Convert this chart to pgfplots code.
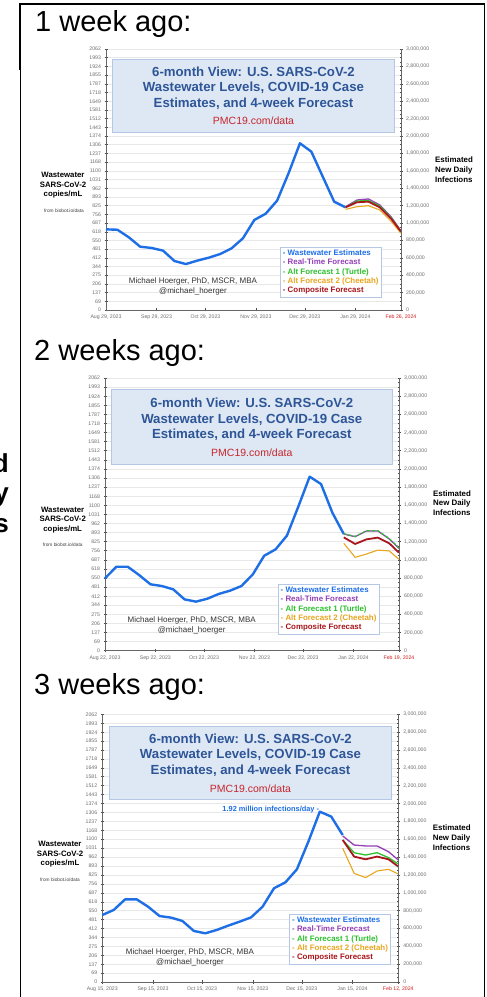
\documentclass[border=0pt]{standalone}
\usepackage{pgfplots}
\pgfplotsset{compat=1.18}
\usepackage{fontspec}
\setmainfont{Liberation Sans}
\definecolor{cBlue}{HTML}{1E6FE6}
\definecolor{cPurple}{HTML}{9440B8}
\definecolor{cGreen}{HTML}{2EC02E}
\definecolor{cOrange}{HTML}{E8A620}
\definecolor{cRed}{HTML}{A8151B}
\definecolor{cTitle}{HTML}{2E5597}
\definecolor{cBoxFill}{HTML}{DDE8F4}
\definecolor{cBoxDraw}{HTML}{B4C8E6}
\definecolor{cPMC}{HTML}{C8242B}
\definecolor{cTick}{HTML}{707070}
\definecolor{cFeb}{HTML}{D02020}
\newcommand{\fs}[2]{\fontsize{#1}{#2}\selectfont}

\pgfplotsset{
 common/.style={
  scale only axis, anchor=south west, clip=false,
  xmin=0, xmax=181,
  tick label style={font=\fs{5.2}{6}, text=cTick},
  tick align=center, major tick length=3pt, minor tick length=1.8pt,
  every tick/.style={draw=black!70, line width=0.5pt},
  axis line style={draw=black!60, line width=0.7pt},
 },
 leftax/.style={
  common,
  ymin=0, ymax=2062,
  axis x line*=bottom, axis y line*=left,
  xtick={0,31,61,92,122,153,181},
  ytick={0,69,137,206,275,344,412,481,550,618,687,756,825,893,962,1031,1100,1168,1237,1306,1374,1443,1512,1581,1649,1718,1787,1855,1924,1993,2062},
  yticklabels={0,69,137,206,275,344,412,481,550,618,687,756,825,893,962,1031,1100,1168,1237,1306,1374,1443,1512,1581,1649,1718,1787,1855,1924,1993,2062},
  minor y tick num=1,
  ymajorgrids, major grid style={draw=black!9, line width=0.5pt},
  legend cell align=left,
  legend image code/.code={},
  legend style={draw=cBoxDraw, line width=0.6pt, fill=white,
    font=\fs{7.9}{9}\bfseries, inner xsep=1.5pt, inner ysep=1.5pt,
    row sep=0pt, column sep=0pt, nodes={inner sep=1.05pt, anchor=west}},
 },
 rightax/.style={
  common,
  ymin=0, ymax=3000000,
  hide x axis, axis y line*=right,
  ytick={0,200000,400000,600000,800000,1000000,1200000,1400000,1600000,1800000,2000000,2200000,2400000,2600000,2800000,3000000},
  yticklabels={0,{200,000},{400,000},{600,000},{800,000},{1,000,000},{1,200,000},{1,400,000},{1,600,000},{1,800,000},{2,000,000},{2,200,000},{2,400,000},{2,600,000},{2,800,000},{3,000,000}},
  minor y tick num=3,
  scaled y ticks=false,
 },
 ww/.style={cBlue, line width=2.4pt, line join=round},
 rt/.style={cPurple, line width=1.3pt, line join=round},
 t1/.style={cGreen, line width=1.3pt, line join=round},
 t2/.style={cOrange, line width=1.1pt, line join=round},
 cf/.style={cRed, line width=1.8pt, line join=round},
}

\begin{document}
\begin{tikzpicture}[x=1pt,y=1pt]
\useasboundingbox (0,0) rectangle (487,997);
\clip (0,0) rectangle (487,997);
\fill[white] (0,0) rectangle (487,997);

% ---------------- frame and left fragments ----------------
\draw[black, line width=1.9pt] (19.5,993) -- (484.5,993);
\draw[black, line width=1.9pt] (484.5,993.9) -- (484.5,0);
\draw[black, line width=2pt] (20,993.9) -- (20,927);
\draw[black, line width=1pt] (20,930) -- (20,0);
\node[anchor=base east, inner sep=0, font=\fs{26}{30}\bfseries] at (9,524) {Estimated};
\node[anchor=base east, inner sep=0, font=\fs{26}{30}\bfseries] at (9,495) {New Daily};
\node[anchor=base east, inner sep=0, font=\fs{26}{30}\bfseries] at (9,464) {Infections};

% ================= PANEL 1 =================
\node[anchor=base west, inner sep=0, font=\fs{29}{34}] at (35,965.5) {1 week ago:};
\begin{axis}[leftax, at={(106pt,687pt)}, width=295pt, height=261pt,
  xticklabels={{Aug 29, 2023},{Sep 29, 2023},{Oct 29, 2023},{Nov 29, 2023},{Dec 29, 2023},{Jan 29, 2024},{\textcolor{cFeb}{Feb 26, 2024}}},
  legend style={at={(0.590,0.241)}, anchor=north west}]
\addplot[ww] coordinates {(0,637)(7,634)(14,574)(21,500)(28,490)(35,469)(42,387)(49,363)(56,390)(63,413)(70,442)(77,487)(84,566)(91,711)(98,761)(105,864)(112,1080)(119,1317)(126,1251)(133,1053)(140,856)(147,811)};
\addlegendentry{\textcolor{cBlue}{- Wastewater Estimates}}
\addplot[rt] coordinates {(147,816)(154,869)(161,877)(168,830)(175,735)(181,624)};
\addlegendentry{\textcolor{cPurple}{- Real-Time Forecast}}
\addplot[t1] coordinates {(147,811)(154,861)(161,864)(168,822)(175,728)(181,620)};
\addlegendentry{\textcolor{cGreen}{- Alt Forecast 1 (Turtle)}}
\addplot[t2] coordinates {(147,795)(154,816)(161,824)(168,790)(175,700)(181,606)};
\addlegendentry{\textcolor{cOrange}{- Alt Forecast 2 (Cheetah)}}
\addplot[cf] coordinates {(147,811)(154,851)(161,856)(168,811)(175,720)(181,619)};
\addlegendentry{\textcolor{cRed}{- Composite Forecast}}
\end{axis}
\begin{axis}[rightax, at={(106pt,687pt)}, width=295pt, height=261pt]
\end{axis}
\draw[fill=cBoxFill, draw=cBoxDraw, line width=0.8pt] (112.7,864.7) rectangle (394.3,937.7);
\node[align=center, text=cTitle, font=\fs{13.2}{15.3}\bfseries, inner sep=0] at (253.5,909) {6-month View: U.S. SARS-CoV-2\\Wastewater Levels, COVID-19 Case\\Estimates, and 4-week Forecast};
\node[text=cPMC, font=\fs{10.5}{12}, inner sep=0] at (253.5,876) {PMC19.com/data};
\node[align=center, font=\fs{7.8}{9.5}\bfseries, inner sep=0] at (63,811.5) {Wastewater\\SARS-CoV-2\\copies/mL};
\node[font=\fs{4.8}{5}, text=black!75, inner sep=0] at (64,786) {from biobot.io/data};
\node[align=left, anchor=west, font=\fs{7.9}{9.6}\bfseries, inner sep=0] at (435,827.3) {Estimated\\New Daily\\Infections};
\node[align=center, font=\fs{8}{9.3}, text=black!80, inner sep=0] at (193,710.5) {Michael Hoerger, PhD, MSCR, MBA\\@michael\_hoerger};

% ================= PANEL 2 =================
\node[anchor=base west, inner sep=0, font=\fs{29}{34}] at (34,636.3) {2 weeks ago:};
\begin{axis}[leftax, at={(105pt,346.3pt)}, width=294pt, height=272.7pt,
  xticklabels={{Aug 22, 2023},{Sep 22, 2023},{Oct 22, 2023},{Nov 22, 2023},{Dec 22, 2023},{Jan 22, 2024},{\textcolor{cFeb}{Feb 19, 2024}}},
  legend style={at={(0.588,0.2446)}, anchor=north west}]
\addplot[ww] coordinates {(0,547)(7,635)(14,635)(21,572)(28,502)(35,489)(42,464)(49,388)(56,371)(63,393)(70,429)(77,454)(84,489)(91,577)(98,718)(105,766)(112,870)(119,1089)(126,1316)(133,1260)(140,1043)(147,882)};
\addlegendentry{\textcolor{cBlue}{- Wastewater Estimates}}
\addplot[rt] coordinates {(147,882)(154,862)(161,905)(168,905)(175,845)(181,774)};
\addlegendentry{\textcolor{cPurple}{- Real-Time Forecast}}
\addplot[t1, dash pattern=on 3pt off 2pt] coordinates {(147,884)(154,864)(161,907)(168,907)(175,848)(181,778)};
\addlegendentry{\textcolor{cGreen}{- Alt Forecast 1 (Turtle)}}
\addplot[t2] coordinates {(147,812)(154,706)(161,731)(168,761)(175,754)(181,691)};
\addlegendentry{\textcolor{cOrange}{- Alt Forecast 2 (Cheetah)}}
\addplot[cf] coordinates {(147,857)(154,807)(161,842)(168,855)(175,812)(181,741)};
\addlegendentry{\textcolor{cRed}{- Composite Forecast}}
\end{axis}
\begin{axis}[rightax, at={(105pt,346.3pt)}, width=294pt, height=272.7pt]
\end{axis}
\draw[fill=cBoxFill, draw=cBoxDraw, line width=0.8pt] (111,532.3) rectangle (392.7,607.7);
\node[align=center, text=cTitle, font=\fs{13.2}{15.3}\bfseries, inner sep=0] at (251.8,577.7) {6-month View: U.S. SARS-CoV-2\\Wastewater Levels, COVID-19 Case\\Estimates, and 4-week Forecast};
\node[text=cPMC, font=\fs{10.5}{12}, inner sep=0] at (251.8,544.3) {PMC19.com/data};
\node[align=center, font=\fs{7.8}{9.5}\bfseries, inner sep=0] at (62.7,477) {Wastewater\\SARS-CoV-2\\copies/mL};
\node[font=\fs{4.8}{5}, text=black!75, inner sep=0] at (62.7,452) {from biobot.io/data};
\node[align=left, anchor=west, font=\fs{7.9}{9.6}\bfseries, inner sep=0] at (433,494) {Estimated\\New Daily\\Infections};
\node[align=center, font=\fs{8}{9.3}, text=black!80, inner sep=0] at (191.7,371.7) {Michael Hoerger, PhD, MSCR, MBA\\@michael\_hoerger};

% ================= PANEL 3 =================
\node[anchor=base west, inner sep=0, font=\fs{29}{34}] at (34,302) {3 weeks ago:};
\begin{axis}[leftax, at={(102.3pt,15pt)}, width=296pt, height=267.7pt,
  xticklabels={{Aug 15, 2023},{Sep 15, 2023},{Oct 15, 2023},{Nov 15, 2023},{Dec 15, 2023},{Jan 15, 2024},{\textcolor{cFeb}{Feb 12, 2024}}},
  legend style={at={(0.632,0.254)}, anchor=north west}]
\addplot[ww] coordinates {(0,516)(7,555)(14,637)(21,637)(28,580)(35,508)(42,496)(49,470)(56,393)(63,375)(70,401)(77,434)(84,465)(91,498)(98,580)(105,722)(112,768)(119,868)(126,1081)(133,1312)(140,1274)(147,1132)};
\addlegendentry{\textcolor{cBlue}{- Wastewater Estimates}}
\addplot[rt] coordinates {(147,1125)(154,1055)(161,1048)(168,1048)(175,1004)(181,940)};
\addlegendentry{\textcolor{cPurple}{- Real-Time Forecast}}
\addplot[t1] coordinates {(147,1094)(154,996)(161,978)(168,996)(175,958)(181,909)};
\addlegendentry{\textcolor{cGreen}{- Alt Forecast 1 (Turtle)}}
\addplot[t2] coordinates {(147,1030)(154,837)(161,804)(168,855)(175,868)(181,832)};
\addlegendentry{\textcolor{cOrange}{- Alt Forecast 2 (Cheetah)}}
\addplot[cf] coordinates {(147,1094)(154,966)(161,945)(168,966)(175,945)(181,889)};
\addlegendentry{\textcolor{cRed}{- Composite Forecast}}
\end{axis}
\begin{axis}[rightax, at={(102.3pt,15pt)}, width=296pt, height=267.7pt]
\end{axis}
\draw[fill=cBoxFill, draw=cBoxDraw, line width=0.8pt] (109.3,197.7) rectangle (391.7,271);
\node[align=center, text=cTitle, font=\fs{13.2}{15.3}\bfseries, inner sep=0] at (250.5,242) {6-month View: U.S. SARS-CoV-2\\Wastewater Levels, COVID-19 Case\\Estimates, and 4-week Forecast};
\node[text=cPMC, font=\fs{10.5}{12}, inner sep=0] at (250.5,208.7) {PMC19.com/data};
\node[anchor=east, text=cBlue, font=\fs{7.4}{8}\bfseries, inner sep=0] at (319.3,187) {1.92 million infections/day -};
\node[align=center, font=\fs{7.8}{9.5}\bfseries, inner sep=0] at (60,142.7) {Wastewater\\SARS-CoV-2\\copies/mL};
\node[font=\fs{4.8}{5}, text=black!75, inner sep=0] at (60,117.7) {from biobot.io/data};
\node[align=left, anchor=west, font=\fs{7.9}{9.6}\bfseries, inner sep=0] at (432.7,159.3) {Estimated\\New Daily\\Infections};
\node[align=center, font=\fs{8}{9.3}, text=black!80, inner sep=0] at (190,39.7) {Michael Hoerger, PhD, MSCR, MBA\\@michael\_hoerger};
\end{tikzpicture}
\end{document}
